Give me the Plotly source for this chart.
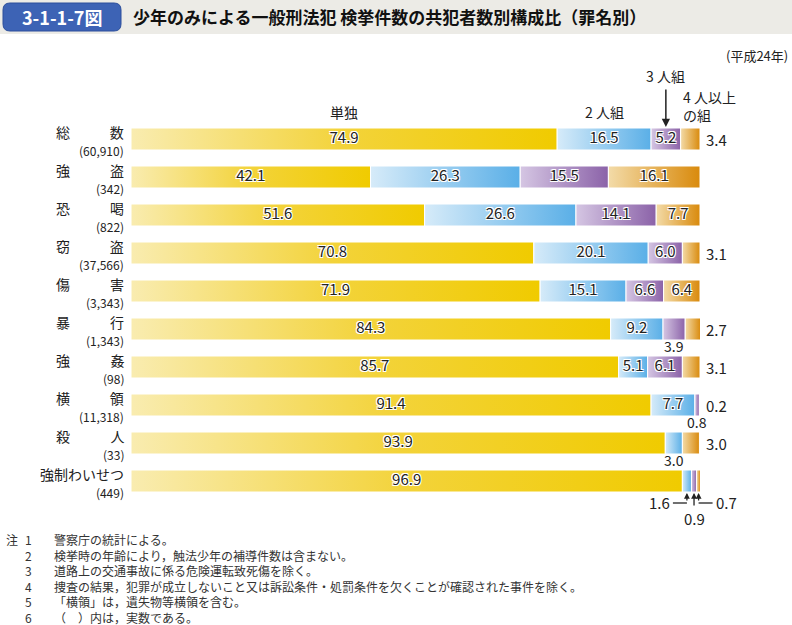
import plotly.graph_objects as go

# ---------------- data ----------------
categories = ["総数", "強盗", "恐喝", "窃盗", "傷害", "暴行", "強姦", "横領", "殺人", "強制わいせつ"]
counts = ["60,910", "342", "822", "37,566", "3,343", "1,343", "98", "11,318", "33", "449"]
solo = [74.9, 42.1, 51.6, 70.8, 71.9, 84.3, 85.7, 91.4, 93.9, 96.9]
pair = [16.5, 26.3, 26.6, 20.1, 15.1, 9.2, 5.1, 7.7, 3.0, 1.6]
trio = [5.2, 15.5, 14.1, 6.0, 6.6, 3.9, 6.1, 0.8, 0.0, 0.9]
four_plus = [3.4, 16.1, 7.7, 3.1, 6.4, 2.7, 3.1, 0.2, 3.0, 0.7]
series_names = ["単独", "2人組", "3人組", "4人以上の組"]
header_labels = ["単独", "2 人組", "3 人組", "4 人以上<br>の組"]

title_text = "少年のみによる一般刑法犯 検挙件数の共犯者数別構成比（罪名別）"
fig_no = "3-1-1-7図"
year_text = "(平成24年)"
note_head = "注"
note_nums = ["1", "2", "3", "4", "5", "6"]
note_texts = [
    "警察庁の統計による。",
    "検挙時の年齢により，触法少年の補導件数は含まない。",
    "道路上の交通事故に係る危険運転致死傷を除く。",
    "捜査の結果，犯罪が成立しないこと又は訴訟条件・処罰条件を欠くことが確認された事件を除く。",
    "「横領」は，遺失物等横領を含む。",
    "（　）内は，実数である。",
]

# ---------------- styling / layout helpers ----------------
FONT = "Noto Sans CJK JP"
W, H = 792, 625
ML, MR, MT, MB = 131, 92, 120, 125
PW, PH = W - ML - MR, H - MT - MB
ROW_PX = PH / len(categories)
HALF = 11 / ROW_PX

grad = [
    ["#f9ecb0", "#f3d33a", "#f0cb00"],
    ["#d6ebf9", "#5aafe7"],
    ["#d5c6e3", "#8b62a8"],
    ["#f3dba8", "#d98a0c"],
]
TXT = "#222222"
HALO = "1px 1px 0 #fff, -1px -1px 0 #fff, 1px -1px 0 #fff, -1px 1px 0 #fff, 0 1px 0 #fff, 0 -1px 0 #fff"


def px2x(px):
    return (px - ML) / PW


def py2y(py):
    return (H - MB - py) / PH


def rowp(i, off):
    """paper y for row i shifted by off pixels (down positive)"""
    return py2y(MT + ROW_PX * (i + 0.5) + off)


def vx(v):
    """paper x for a percentage value"""
    return v / 100.0


def colorscale(cols):
    n = len(cols) - 1
    return [[k / n, c] for k, c in enumerate(cols)]


def ann(x, y, text, size=15, xanchor="center", color=TXT, yanchor="middle", **kw):
    d = dict(x=x, y=y, xref="paper", yref="paper", text=text, showarrow=False,
             xanchor=xanchor, yanchor=yanchor, font=dict(size=size, color=color, family=FONT))
    d.update(kw)
    return d


fig = go.Figure()
series = [solo, pair, trio, four_plus]
annotations = []
shapes = []

in_x, in_y, in_t = [], [], []
for i, cat in enumerate(categories):
    left = 0.0
    segs = []
    for s, vals in enumerate(series):
        v = vals[i]
        segs.append((s, left, v))
        if v > 0:
            fig.add_trace(go.Scatter(
                x=[left, left + v, left + v, left, left],
                y=[i - HALF, i - HALF, i + HALF, i + HALF, i - HALF],
                mode="lines", fill="toself",
                fillgradient=dict(type="horizontal", colorscale=colorscale(grad[s])),
                fillcolor=grad[s][-1],
                line=dict(color="white", width=1),
                name=series_names[s], showlegend=False,
                hovertemplate=f"{cat} {series_names[s]}: {v}%<extra></extra>",
            ))
        left += v

    small = [(s, l, v) for (s, l, v) in segs if 0 < v < 5]
    for (s, l, v) in segs:
        if v >= 5:
            in_x.append(l + v / 2)
            in_y.append(i)
            in_t.append(f"{v:.1f}")
    if len(small) >= 3:
        # callout with arrows from below
        line_y = rowp(i, 22)
        for k, (s, l, v) in enumerate(small):
            cx = vx(l + v / 2)
            tail = 9 if k != 1 else 14
            annotations.append(dict(
                x=cx, y=rowp(i, 12), xref="paper", yref="paper", ax=0, ay=tail,
                axref="pixel", ayref="pixel", text="", showarrow=True, arrowhead=2,
                arrowsize=0.9, arrowwidth=1.3, arrowcolor="#222"))
            if k == 0:
                x_end = cx - 14 / PW
                shapes.append(dict(type="line", xref="paper", yref="paper", x0=x_end, x1=cx,
                                   y0=line_y, y1=line_y, line=dict(color="#222", width=1.3)))
                annotations.append(ann(x_end, line_y, f"{v:.1f}", xanchor="right", xshift=-1))
            elif k == len(small) - 1:
                x_end = cx + 14 / PW
                shapes.append(dict(type="line", xref="paper", yref="paper", x0=cx, x1=x_end,
                                   y0=line_y, y1=line_y, line=dict(color="#222", width=1.3)))
                annotations.append(ann(x_end, line_y, f"{v:.1f}", xanchor="left", xshift=1))
            else:
                annotations.append(ann(cx, rowp(i, 37), f"{v:.1f}"))
    else:
        for (s, l, v) in small:
            if s == len(series) - 1:
                annotations.append(ann(vx(100), rowp(i, 0), f"{v:.1f}", xanchor="left", xshift=4))
            else:
                annotations.append(ann(vx(l + v / 2), rowp(i, 17), f"{v:.1f}", size=14,
                                       borderpad=0))

    # category labels: name (last char right-aligned) + count below, in one text block
    last = cat if len(cat) != 2 else cat[1]
    annotations.append(ann(0, rowp(i, 1), f"{last}<br><span style='font-size:12px'>({counts[i]})</span>",
                           size=14, xanchor="right", xshift=-5, align="right"))
    if len(cat) == 2:
        annotations.append(ann(0, rowp(i, -7), cat[0], size=14, xanchor="left", xshift=-77))

fig.add_trace(go.Scatter(
    x=in_x, y=in_y, text=in_t, mode="text", showlegend=False, hoverinfo="skip",
    textfont=dict(size=15, color=TXT, family=FONT, shadow=HALO),
))

# series header labels (positioned over the first row's segments)
c_solo = vx(solo[0] / 2)
c_pair = vx(solo[0] + pair[0] / 2)
c_trio = vx(solo[0] + pair[0] + trio[0] / 2)
c_four = vx(solo[0] + pair[0] + trio[0])
annotations += [
    ann(c_solo, rowp(0, -27), header_labels[0], size=14),
    ann(c_pair, rowp(0, -27), header_labels[1], size=14),
    ann(c_trio, rowp(0, -63), header_labels[2], size=14),
    dict(x=c_trio, y=rowp(0, -12), xref="paper", yref="paper", ax=0, ay=-39,
         axref="pixel", ayref="pixel", text="", showarrow=True, arrowhead=2, arrowsize=1.1,
         arrowwidth=1.5, arrowcolor="#222"),
    ann(c_four, rowp(0, -33), header_labels[3], size=14, xanchor="left", xshift=0, align="left"),
    ann(1, py2y(55), year_text, size=13, xanchor="right", xshift=MR - 2),
]

# title band
shapes.append(dict(type="rect", xref="paper", yref="paper", x0=px2x(0), x1=px2x(W),
                   y0=py2y(34), y1=py2y(0), fillcolor="#ecebe6", line=dict(width=0)))
# rounded blue box
x0, x1, y0, y1 = px2x(3), px2x(121), py2y(31), py2y(3)
rx, ry = 7 / PW, 7 / PH
path = (f"M {x0+rx},{y1} L {x1-rx},{y1} Q {x1},{y1} {x1},{y1-ry} L {x1},{y0+ry} "
        f"Q {x1},{y0} {x1-rx},{y0} L {x0+rx},{y0} Q {x0},{y0} {x0},{y0+ry} "
        f"L {x0},{y1-ry} Q {x0},{y1} {x0+rx},{y1} Z")
shapes.append(dict(type="path", xref="paper", yref="paper", path=path, fillcolor="#3d63b5",
                   line=dict(color="#2c4f9c", width=1)))
annotations.append(ann(px2x(62), py2y(17), fig_no, size=18, color="white"))
annotations[-1]["font"]["weight"] = "bold"
annotations.append(ann(px2x(131), py2y(17), title_text, size=17, xanchor="left", color="#111"))
annotations[-1]["font"]["weight"] = "bold"

# notes (one text block per column)
NOTE_TOP = 529
annotations.append(ann(px2x(4), py2y(NOTE_TOP), note_head, size=12, xanchor="left",
                       yanchor="top", color="#333"))
annotations.append(ann(px2x(34), py2y(NOTE_TOP), "<br>".join(note_nums), size=12,
                       xanchor="right", yanchor="top", align="right", color="#333"))
annotations.append(ann(px2x(52), py2y(NOTE_TOP), "<br>".join(note_texts), size=12,
                       xanchor="left", yanchor="top", align="left", color="#333"))

fig.update_layout(
    width=W, height=H,
    margin=dict(l=ML, r=MR, t=MT, b=MB),
    paper_bgcolor="white", plot_bgcolor="white",
    xaxis=dict(range=[0, 100], visible=False, fixedrange=True),
    yaxis=dict(range=[len(categories) - 0.5, -0.5], visible=False, fixedrange=True),
    showlegend=False,
    annotations=annotations, shapes=shapes,
    font=dict(family=FONT),
)

fig.write_html("out.html")
